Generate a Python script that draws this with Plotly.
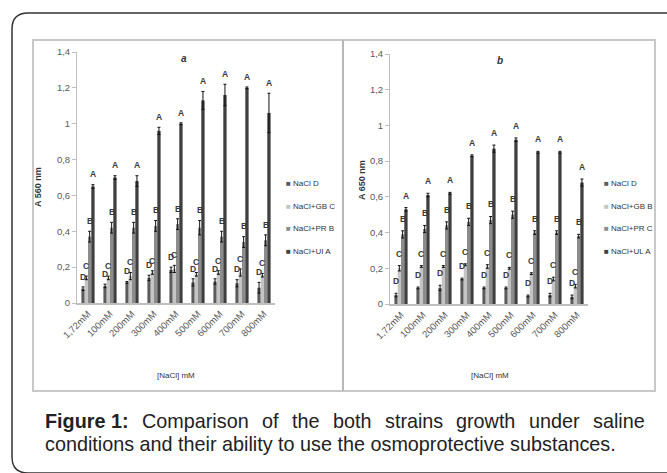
import plotly.graph_objects as go

# ---------------- data ----------------
conc = ["1,72mM", "100mM", "200mM", "300mM", "400mM", "500mM", "600mM", "700mM", "800mM"]

# panel a (A 560 nm)
a_names = ["NaCl D", "NaCl+GB C", "NaCl+PR B", "NaCl+UI A"]
a_letters = ["D", "C", "B", "A"]
a_nacl = [0.08, 0.095, 0.115, 0.14, 0.185, 0.115, 0.12, 0.11, 0.085]
a_nacl_err = [0.01, 0.01, 0.005, 0.015, 0.015, 0.02, 0.015, 0.02, 0.03]
a_gb = [0.14, 0.14, 0.15, 0.17, 0.19, 0.16, 0.17, 0.17, 0.155]
a_gb_err = [0.01, 0.01, 0.02, 0.01, 0.02, 0.01, 0.01, 0.02, 0.01]
a_pr = [0.37, 0.42, 0.42, 0.43, 0.44, 0.42, 0.37, 0.34, 0.35]
a_pr_err = [0.03, 0.03, 0.03, 0.03, 0.03, 0.04, 0.03, 0.03, 0.03]
a_ui = [0.65, 0.70, 0.68, 0.96, 1.00, 1.13, 1.16, 1.20, 1.06]
a_ui_err = [0.01, 0.01, 0.03, 0.02, 0.005, 0.05, 0.06, 0.005, 0.11]

# panel b (A 650 nm)
b_names = ["NaCl D", "NaCl+GB B", "NaCl+PR C", "NaCl+UL A"]
b_letters = ["D", "C", "B", "A"]
b_nacl = [0.05, 0.09, 0.09, 0.14, 0.09, 0.09, 0.045, 0.05, 0.04]
b_nacl_err = [0.01, 0.005, 0.015, 0.005, 0.005, 0.005, 0.005, 0.01, 0.01]
b_gb = [0.20, 0.21, 0.21, 0.22, 0.21, 0.20, 0.17, 0.14, 0.10]
b_gb_err = [0.015, 0.005, 0.005, 0.005, 0.01, 0.005, 0.005, 0.01, 0.01]
b_pr = [0.39, 0.42, 0.44, 0.46, 0.47, 0.50, 0.40, 0.40, 0.38]
b_pr_err = [0.02, 0.02, 0.02, 0.02, 0.02, 0.02, 0.01, 0.01, 0.01]
b_ul = [0.53, 0.61, 0.62, 0.83, 0.87, 0.92, 0.85, 0.85, 0.68]
b_ul_err = [0.01, 0.01, 0.005, 0.005, 0.02, 0.01, 0.005, 0.005, 0.02]

caption_line1 = ["Figure 1:", "Comparison", "of", "the", "both", "strains", "growth", "under", "saline"]
caption_line2 = "conditions and their ability to use the osmoprotective substances."

colors = ["#5c5c5c", "#c4c4c4", "#8c8c8c", "#3f3f3f"]

W, H = 667, 473
def px(x):
    return x / W
def py(y):
    return 1 - y / H

fig = go.Figure()

panels = [
    dict(names=a_names, letters=a_letters, lift=0.018,
         vals=[a_nacl, a_gb, a_pr, a_ui], errs=[a_nacl_err, a_gb_err, a_pr_err, a_ui_err],
         xa="x", ya="y"),
    dict(names=b_names, letters=b_letters, lift=0.028,
         vals=[b_nacl, b_gb, b_pr, b_ul], errs=[b_nacl_err, b_gb_err, b_pr_err, b_ul_err],
         xa="x2", ya="y2"),
]

annotations = []
group_px = 22.0
shifts = [-0.225 * group_px, -0.075 * group_px, 0.075 * group_px, 0.225 * group_px]

for p in panels:
    for k in range(4):
        fig.add_trace(go.Bar(
            x=conc, y=p["vals"][k], name=p["names"][k],
            marker=dict(color=colors[k], line=dict(width=0)),
            error_y=dict(type="data", array=p["errs"][k], color="#111111", thickness=1, width=1.5),
            xaxis=p["xa"], yaxis=p["ya"], showlegend=False,
        ))
        for i, c in enumerate(conc):
            annotations.append(dict(
                x=c, y=p["vals"][k][i] + p["errs"][k][i] + p["lift"],
                xref=p["xa"], yref=p["ya"], xshift=shifts[k], xanchor="center",
                text="<b>%s</b>" % p["letters"][k], showarrow=False,
                yanchor="bottom", font=dict(size=8.5, color="#3a3a3a", family="Liberation Sans"),
            ))

tickfont = dict(size=9.5, color="#595959", family="Liberation Sans Narrow, Liberation Sans, Arial")
axis_common_x = dict(type="category", categoryorder="array", categoryarray=conc,
                     showline=True, linecolor="#bfbfbf", linewidth=1.5, ticks="",
                     tickangle=-45, tickfont=tickfont, showgrid=False, zeroline=False,
                     automargin=False)
axis_common_y = dict(range=[0, 1.4], dtick=0.2, showline=True, linecolor="#bfbfbf", linewidth=1,
                     ticks="outside", ticklen=4, tickcolor="#bfbfbf", tickfont=tickfont,
                     showgrid=False, zeroline=False, automargin=False)

fig.update_layout(
    xaxis=dict(domain=[px(77), px(275)], anchor="y", range=[-0.5, 8.5], **axis_common_x),
    yaxis=dict(domain=[py(303), py(52)], anchor="x", **axis_common_y),
    xaxis2=dict(domain=[px(390), px(588)], anchor="y2", range=[-0.5, 8.5], **axis_common_x),
    yaxis2=dict(domain=[py(304), py(54)], anchor="x2", **axis_common_y),
)

def paper_text(txt, x, y, size, xanchor="center", angle=0, fam=None, color="#333333"):
    annotations.append(dict(
        x=px(x), y=py(y), xref="paper", yref="paper", text=txt, textangle=angle,
        xanchor=xanchor, yanchor="middle", showarrow=False,
        font=dict(size=size, color=color,
                  family=fam or "Liberation Sans Narrow, Liberation Sans, Arial")))

paper_text("<b><i>a</i></b>", 184, 59, 10)
paper_text("<b><i>b</i></b>", 500, 60, 10)
paper_text("<b>A 560 nm</b>", 38, 187, 9, angle=-90)
paper_text("<b>A 650 nm</b>", 362, 180, 9, angle=-90)
paper_text("[NaCl] mM", 176, 375, 8)
paper_text("[NaCl] mM", 490, 375, 8)

# legends (manual, small square markers)
leg_y = [184, 206, 228, 251]
for p, lx in [(panels[0], 284), (panels[1], 602)]:
    for k in range(4):
        paper_text('<span style="color:%s">■</span> %s' % (colors[k], p["names"][k]),
                   lx, leg_y[k], 8, xanchor="left")

# caption: Arial/Liberation Sans advance widths (1/1000 em) to justify line 1
reg_w = {" ": 278, "C": 722, "o": 556, "m": 833, "p": 556, "a": 556, "r": 333, "i": 222,
         "s": 500, "n": 556, "f": 278, "t": 278, "h": 556, "e": 556, "b": 556, "g": 556,
         "w": 722, "u": 556, "d": 556, "l": 222}
bold_w = {"F": 611, "i": 278, "g": 611, "u": 611, "r": 389, "e": 556, " ": 278, "1": 556, ":": 333}
cap_size = 19.8
cap_left, cap_right = 43, 643
def tw(word, table):
    return sum(table[ch] for ch in word) * cap_size / 1000.0
widths = [tw(caption_line1[0], bold_w)] + [tw(w_, reg_w) for w_ in caption_line1[1:]]
gap = (cap_right - cap_left - sum(widths)) / (len(widths) - 1)
xcur = cap_left
cap_font = "Liberation Sans, Arial"
for j, word in enumerate(caption_line1):
    txt = "<b>%s</b>" % word if j == 0 else word
    paper_text(txt, xcur, 421, cap_size, xanchor="left", fam=cap_font, color="#222222")
    xcur += widths[j] + gap
paper_text(caption_line2, cap_left, 444, cap_size, xanchor="left", fam=cap_font, color="#222222")

shapes = [
    dict(type="rect", xref="paper", yref="paper", x0=px(33), x1=px(655), y0=py(391), y1=py(40),
         line=dict(color="#c8c8c8", width=2)),
    dict(type="line", xref="paper", yref="paper", x0=px(343), x1=px(343), y0=py(391), y1=py(40),
         line=dict(color="#b8b8b8", width=2)),
    dict(type="path", xref="paper", yref="paper",
         path="M %f,%f L %f,%f Q %f,%f %f,%f L %f,%f Q %f,%f %f,%f L %f,%f" % (
             px(675), py(13), px(28), py(13), px(12), py(13), px(12), py(29),
             px(12), py(457), px(12), py(473), px(28), py(473), px(675), py(473)),
         line=dict(color="#333333", width=1.5)),
]

fig.update_layout(
    width=W, height=H, margin=dict(l=0, r=0, t=0, b=0, pad=0), autosize=False,
    paper_bgcolor="white", plot_bgcolor="white",
    barmode="group", bargap=0.4, bargroupgap=0,
    separators=", ", showlegend=False,
    annotations=annotations, shapes=shapes,
)

fig.write_html("out.html", config={"displayModeBar": False},
               post_script="document.body.style.margin='0';document.body.style.overflow='hidden';")
